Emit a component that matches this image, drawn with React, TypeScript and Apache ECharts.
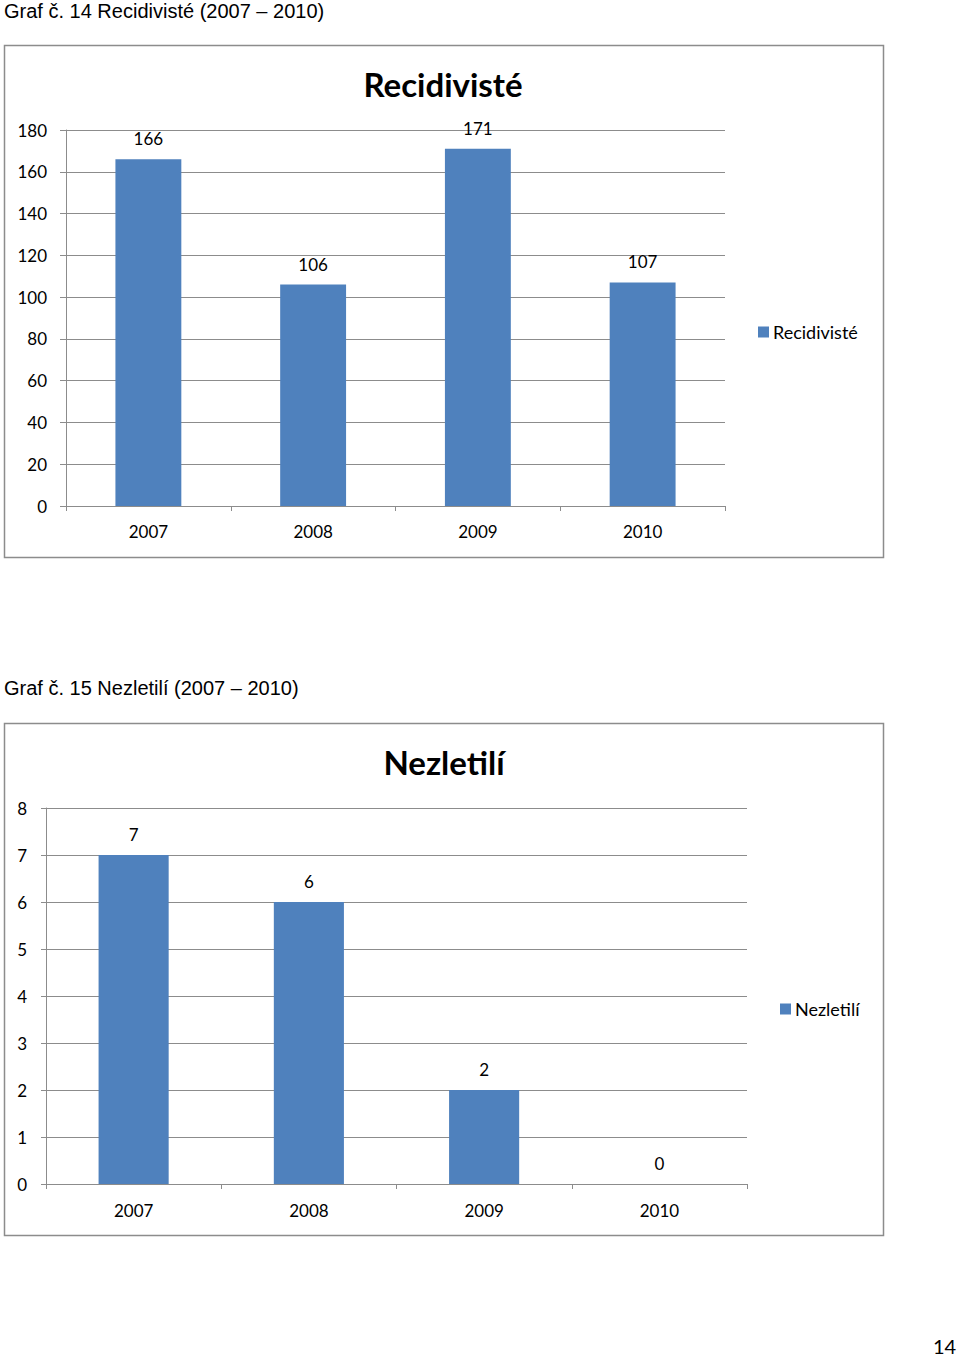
import React, { useEffect, useRef } from "react";
import * as echarts from "echarts";

const years = ["2007", "2008", "2009", "2010"];
const recidivisteValues = [166, 106, 171, 107];
const nezletiliValues = [7, 6, 2, 0];
const recidivisteName = "Recidivisté";
const nezletiliName = "Nezletilí";
const caption1 = "Graf č. 14 Recidivisté (2007 – 2010)";
const caption2 = "Graf č. 15 Nezletilí (2007 – 2010)";
const pageNumber = "14";

const BAR = "#4F81BD";
const GRID = "#8C8C8C";
const FONT = "Lato, 'Noto Sans', sans-serif";

export default function App() {
  const ref = useRef<HTMLDivElement>(null);
  useEffect(() => {
    if (!ref.current) return;
    const chart = echarts.init(ref.current, null, { renderer: "svg" });
    const axisCommon = {
      axisLine: { show: true, lineStyle: { color: GRID, width: 1 } },
      axisTick: { show: true, length: 5, lineStyle: { color: GRID } },
    };
    chart.setOption({
      animation: false,
      backgroundColor: "#ffffff",
      textStyle: { fontFamily: FONT, color: "#000" },
      grid: [
        { left: 66, right: 235, top: 130, bottom: 850 },
        { left: 46, right: 213, top: 808, bottom: 172 },
      ],
      xAxis: [
        {
          gridIndex: 0,
          type: "category",
          data: years,
          ...axisCommon,
          axisTick: { show: true, length: 5, alignWithLabel: false, lineStyle: { color: GRID } },
          axisLabel: { color: "#000", fontSize: 17, fontFamily: FONT, margin: 17 },
        },
        {
          gridIndex: 1,
          type: "category",
          data: years,
          ...axisCommon,
          axisTick: { show: true, length: 5, alignWithLabel: false, lineStyle: { color: GRID } },
          axisLabel: { color: "#000", fontSize: 17, fontFamily: FONT, margin: 18 },
        },
      ],
      yAxis: [
        {
          gridIndex: 0,
          type: "value",
          min: 0,
          max: 180,
          interval: 20,
          ...axisCommon,
          axisTick: { show: true, length: 6, inside: false, lineStyle: { color: GRID } },
          axisLabel: { color: "#000", fontSize: 17, fontFamily: FONT, margin: 19 },
          splitLine: { show: true, lineStyle: { color: GRID, width: 1 } },
        },
        {
          gridIndex: 1,
          type: "value",
          min: 0,
          max: 8,
          interval: 1,
          ...axisCommon,
          axisTick: { show: true, length: 5, inside: false, lineStyle: { color: GRID } },
          axisLabel: { color: "#000", fontSize: 17, fontFamily: FONT, margin: 19 },
          splitLine: { show: true, lineStyle: { color: GRID, width: 1 } },
        },
      ],
      legend: [
        {
          data: [recidivisteName],
          left: 753,
          top: 318,
          itemWidth: 11,
          itemHeight: 11,
          itemGap: 5,
          icon: "rect",
          textStyle: { fontSize: 18, fontFamily: FONT, color: "#000", padding: [0, 0, 0, -1] },
        },
        {
          data: [nezletiliName],
          left: 775,
          top: 995,
          itemWidth: 11,
          itemHeight: 11,
          icon: "rect",
          textStyle: { fontSize: 18, fontFamily: FONT, color: "#000", padding: [0, 0, 0, -1] },
        },
      ],
      series: [
        {
          name: recidivisteName,
          type: "bar",
          xAxisIndex: 0,
          yAxisIndex: 0,
          data: recidivisteValues,
          barWidth: "40%",
          itemStyle: { color: BAR },
          label: { show: true, position: "top", distance: 12, color: "#000", fontSize: 17, fontFamily: FONT },
        },
        {
          name: nezletiliName,
          type: "bar",
          xAxisIndex: 1,
          yAxisIndex: 1,
          data: nezletiliValues,
          barWidth: "40%",
          itemStyle: { color: BAR },
          label: { show: true, position: "top", distance: 12, color: "#000", fontSize: 17, fontFamily: FONT },
        },
      ],
      graphic: [
        {
          type: "rect",
          shape: { x: 4.5, y: 45.5, width: 879, height: 512 },
          style: { fill: "none", stroke: "#8C8C8C", lineWidth: 1.5 },
          z: -1,
        },
        {
          type: "rect",
          shape: { x: 4.5, y: 723.5, width: 879, height: 512 },
          style: { fill: "none", stroke: "#8C8C8C", lineWidth: 1.5 },
          z: -1,
        },
        {
          type: "text",
          x: 4,
          y: 11,
          style: {
            text: caption1,
            font: "20px 'Liberation Sans', Arial, sans-serif",
            fill: "#000",
            textVerticalAlign: "middle",
          },
        },
        {
          type: "text",
          x: 4,
          y: 688,
          style: {
            text: caption2,
            font: "20px 'Liberation Sans', Arial, sans-serif",
            fill: "#000",
            textVerticalAlign: "middle",
          },
        },
        {
          type: "text",
          x: 443,
          y: 84,
          style: {
            text: recidivisteName,
            font: `bold 33px ${FONT}`,
            fill: "#000",
            textAlign: "center",
            textVerticalAlign: "middle",
          },
        },
        {
          type: "text",
          x: 444,
          y: 762,
          style: {
            text: nezletiliName,
            font: `bold 33px ${FONT}`,
            fill: "#000",
            textAlign: "center",
            textVerticalAlign: "middle",
          },
        },
        {
          type: "text",
          x: 933,
          y: 1346,
          style: {
            text: pageNumber,
            font: `20px ${FONT}`,
            fill: "#000",
            textAlign: "left",
            textVerticalAlign: "middle",
          },
        },
      ],
    });
    return () => chart.dispose();
  }, []);
  return (
    <div
      ref={ref}
      style={{ position: "absolute", left: 0, top: 0, width: 960, height: 1356, background: "#fff" }}
    />
  );
}
